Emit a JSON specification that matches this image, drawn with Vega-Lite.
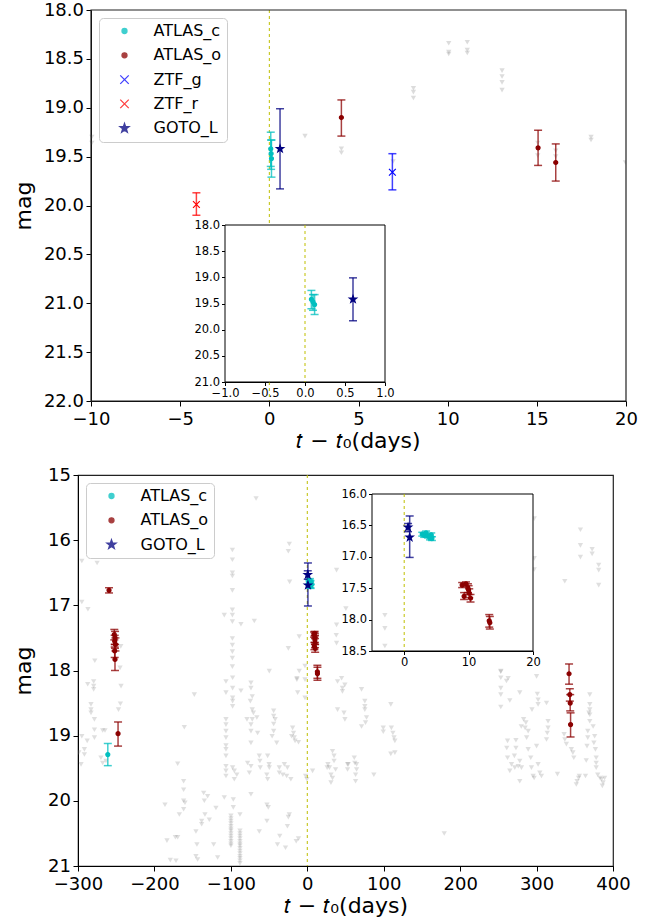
{
  "$schema": "https://vega.github.io/schema/vega-lite/v6.json",
  "background": "white",
  "padding": {"left": 11, "top": 1, "right": 5, "bottom": 5},
  "config": {
    "font": "DejaVu Sans",
    "view": {"stroke": "#222222", "strokeWidth": 1.2},
    "axis": {"grid": false, "labelFont": "DejaVu Sans", "titleFont": "DejaVu Sans", "labelColor": "black", "titleColor": "black", "domainColor": "black", "tickColor": "black", "titleFontWeight": "normal", "labelFlush": false, "labelOverlap": false, "domainWidth": 1, "tickWidth": 1}
  },
  "datasets": {
    "top_det": [
      {"band": "ZTF_r", "t": -4.09, "mag": 19.99, "lo": 19.87, "hi": 20.10},
      {"band": "ATLAS_c", "t": 0.08, "mag": 19.42, "lo": 19.25, "hi": 19.60},
      {"band": "ATLAS_c", "t": 0.10, "mag": 19.47, "lo": 19.33, "hi": 19.63},
      {"band": "ATLAS_c", "t": 0.12, "mag": 19.52, "lo": 19.33, "hi": 19.71},
      {"band": "ATLAS_o", "t": 4.04, "mag": 19.10, "lo": 18.92, "hi": 19.29},
      {"band": "ZTF_g", "t": 6.90, "mag": 19.66, "lo": 19.47, "hi": 19.84},
      {"band": "ATLAS_o", "t": 15.07, "mag": 19.41, "lo": 19.23, "hi": 19.59},
      {"band": "ATLAS_o", "t": 16.06, "mag": 19.56, "lo": 19.37, "hi": 19.75},
      {"band": "GOTO_L", "t": 0.60, "mag": 19.42, "lo": 19.01, "hi": 19.83}
    ],
    "top_lim": [
      {"t": -9.95, "mag": 19.30}, {"t": -9.95, "mag": 19.36}, {"t": -5.85, "mag": 19.30}, {"t": 2.0, "mag": 19.29},
      {"t": 4.04, "mag": 19.42}, {"t": 4.04, "mag": 19.46}, {"t": 6.94, "mag": 19.55},
      {"t": 8.08, "mag": 18.80}, {"t": 8.08, "mag": 18.84}, {"t": 8.08, "mag": 18.90},
      {"t": 10.06, "mag": 18.34}, {"t": 10.06, "mag": 18.43}, {"t": 10.06, "mag": 18.45},
      {"t": 11.1, "mag": 18.33}, {"t": 11.1, "mag": 18.41}, {"t": 11.1, "mag": 18.44},
      {"t": 13.05, "mag": 18.62}, {"t": 13.05, "mag": 18.68}, {"t": 13.05, "mag": 18.74}, {"t": 13.05, "mag": 18.82},
      {"t": 15.05, "mag": 19.36}, {"t": 15.05, "mag": 19.49}, {"t": 16.06, "mag": 19.44}, {"t": 16.06, "mag": 19.50},
      {"t": 18.04, "mag": 19.30}, {"t": 18.04, "mag": 19.33}, {"t": 19.97, "mag": 19.56}
    ],
    "bot_det": [
      {"band": "ATLAS_c", "t": -261, "mag": 19.29, "lo": 19.12, "hi": 19.46},
      {"band": "ATLAS_c", "t": 2.8, "mag": 16.64, "lo": 16.61, "hi": 16.67},
      {"band": "ATLAS_c", "t": 3.1, "mag": 16.66, "lo": 16.63, "hi": 16.69},
      {"band": "ATLAS_c", "t": 3.4, "mag": 16.62, "lo": 16.59, "hi": 16.65},
      {"band": "ATLAS_c", "t": 3.7, "mag": 16.67, "lo": 16.64, "hi": 16.70},
      {"band": "ATLAS_c", "t": 4.0, "mag": 16.70, "lo": 16.67, "hi": 16.73},
      {"band": "ATLAS_c", "t": 4.2, "mag": 16.65, "lo": 16.62, "hi": 16.68},
      {"band": "ATLAS_c", "t": 4.3, "mag": 16.71, "lo": 16.68, "hi": 16.74},
      {"band": "ATLAS_o", "t": -259.4, "mag": 16.77, "lo": 16.73, "hi": 16.81},
      {"band": "ATLAS_o", "t": -252.5, "mag": 17.45, "lo": 17.37, "hi": 17.53},
      {"band": "ATLAS_o", "t": -251.5, "mag": 17.50, "lo": 17.40, "hi": 17.60},
      {"band": "ATLAS_o", "t": -252, "mag": 17.55, "lo": 17.46, "hi": 17.64},
      {"band": "ATLAS_o", "t": -251, "mag": 17.60, "lo": 17.50, "hi": 17.70},
      {"band": "ATLAS_o", "t": -252, "mag": 17.70, "lo": 17.60, "hi": 17.80},
      {"band": "ATLAS_o", "t": -251.6, "mag": 17.83, "lo": 17.66, "hi": 18.00},
      {"band": "ATLAS_o", "t": -247.6, "mag": 18.97, "lo": 18.79, "hi": 19.16},
      {"band": "ATLAS_o", "t": 9.0, "mag": 17.45, "lo": 17.41, "hi": 17.49},
      {"band": "ATLAS_o", "t": 9.3, "mag": 17.63, "lo": 17.57, "hi": 17.68},
      {"band": "ATLAS_o", "t": 9.6, "mag": 17.43, "lo": 17.40, "hi": 17.47},
      {"band": "ATLAS_o", "t": 9.9, "mag": 17.50, "lo": 17.43, "hi": 17.57},
      {"band": "ATLAS_o", "t": 10.1, "mag": 17.58, "lo": 17.51, "hi": 17.65},
      {"band": "ATLAS_o", "t": 10.3, "mag": 17.66, "lo": 17.60, "hi": 17.72},
      {"band": "ATLAS_o", "t": 10.0, "mag": 17.53, "lo": 17.46, "hi": 17.60},
      {"band": "ATLAS_o", "t": 13.2, "mag": 18.02, "lo": 17.92, "hi": 18.12},
      {"band": "ATLAS_o", "t": 13.3, "mag": 18.05, "lo": 17.95, "hi": 18.15},
      {"band": "ATLAS_o", "t": 342.5, "mag": 18.05, "lo": 17.90, "hi": 18.21},
      {"band": "ATLAS_o", "t": 343.5, "mag": 18.37, "lo": 18.28, "hi": 18.47},
      {"band": "ATLAS_o", "t": 344, "mag": 18.50, "lo": 18.37, "hi": 18.62},
      {"band": "ATLAS_o", "t": 344.5, "mag": 18.83, "lo": 18.65, "hi": 19.02},
      {"band": "GOTO_L", "t": 0.6, "mag": 16.53, "lo": 16.47, "hi": 16.60},
      {"band": "GOTO_L", "t": 0.85, "mag": 16.69, "lo": 16.35, "hi": 17.01}
    ],
    "bot_lim": [
      {"t": -67, "mag": 15.36}, {"t": -295, "mag": 16.32}, {"t": -275, "mag": 16.35}, {"t": -295, "mag": 16.95}, {"t": -287, "mag": 17.06}, {"t": -244, "mag": 17.63}, {"t": -245, "mag": 17.96}, {"t": -278, "mag": 17.85},
      {"t": -98, "mag": 16.15}, {"t": -98, "mag": 16.30}, {"t": -98, "mag": 16.50}, {"t": -98, "mag": 16.55}, {"t": -98, "mag": 16.77}, {"t": -98, "mag": 17.07}, {"t": -98, "mag": 17.15}, {"t": -98, "mag": 17.25}, {"t": -98, "mag": 17.51}, {"t": -98, "mag": 17.61}, {"t": -98, "mag": 17.71}, {"t": -98, "mag": 17.81}, {"t": -98, "mag": 17.94},
      {"t": -108.6, "mag": 17.15}, {"t": -86.8, "mag": 17.29}, {"t": -69.3, "mag": 17.24}, {"t": -23.5, "mag": 16.06}, {"t": -24.8, "mag": 16.17}, {"t": -23.1, "mag": 16.64}, {"t": -10.5, "mag": 17.48}, {"t": -24.8, "mag": 17.66}, {"t": -49.7, "mag": 18.01}, {"t": -13.6, "mag": 18.12},
      {"t": 38.3, "mag": 16.46}, {"t": 38.3, "mag": 17.30}, {"t": 37.9, "mag": 17.46}, {"t": 38.3, "mag": 17.58}, {"t": 50.5, "mag": 17.05}, {"t": 44.9, "mag": 18.12},
      {"t": 296.9, "mag": 15.67}, {"t": 296.9, "mag": 16.28}, {"t": 296.9, "mag": 16.45}, {"t": 357.4, "mag": 15.84}, {"t": 357.4, "mag": 16.08}, {"t": 357.4, "mag": 16.26}, {"t": 372.7, "mag": 16.14}, {"t": 372.7, "mag": 16.21}, {"t": 381.3, "mag": 16.38}, {"t": 381.3, "mag": 16.46}, {"t": 381.3, "mag": 16.69}, {"t": 336.9, "mag": 16.63}, {"t": 253.2, "mag": 18.02}, {"t": 262.8, "mag": 18.12},
      {"t": -3, "mag": 17.93}, {"t": -3, "mag": 18.14}, {"t": -3, "mag": 18.42},
      {"t": -279.5, "mag": 18.17}, {"t": -279.5, "mag": 18.24}, {"t": -279.5, "mag": 18.29}, {"t": -287.3, "mag": 18.21}, {"t": -283, "mag": 18.52}, {"t": -283, "mag": 18.60}, {"t": -283, "mag": 18.65}, {"t": -243.7, "mag": 18.24}, {"t": -244.5, "mag": 18.51}, {"t": -247, "mag": 18.60}, {"t": -278.5, "mag": 18.75}, {"t": -278.5, "mag": 18.91}, {"t": -278.5, "mag": 19.03}, {"t": -267.7, "mag": 18.92}, {"t": -264.7, "mag": 18.92}, {"t": -295, "mag": 19.01}, {"t": -288, "mag": 19.08}, {"t": -299, "mag": 19.26}, {"t": -291.6, "mag": 19.21}, {"t": -291.6, "mag": 19.29}, {"t": -296, "mag": 19.44}, {"t": -270, "mag": 19.34}, {"t": -267.7, "mag": 19.42}, {"t": -263.4, "mag": 19.39},
      {"t": -160.9, "mag": 18.87}, {"t": -147.8, "mag": 18.37}, {"t": -169.6, "mag": 19.43}, {"t": -161.8, "mag": 19.70}, {"t": -161.8, "mag": 19.83}, {"t": -161.8, "mag": 20.00}, {"t": -160, "mag": 20.03}, {"t": -186.2, "mag": 20.06}, {"t": -135.6, "mag": 19.88}, {"t": -130.4, "mag": 19.93}, {"t": -134.7, "mag": 20.00}, {"t": -167.4, "mag": 20.21}, {"t": -161.8, "mag": 20.13}, {"t": -138.2, "mag": 20.31}, {"t": -138.2, "mag": 20.36}, {"t": -133.9, "mag": 20.21}, {"t": -128.2, "mag": 20.29}, {"t": -119.5, "mag": 20.11}, {"t": -145.7, "mag": 20.47}, {"t": -183.6, "mag": 20.61}, {"t": -172.6, "mag": 20.56}, {"t": -169.6, "mag": 20.56}, {"t": -144.4, "mag": 20.67}, {"t": -145.7, "mag": 20.85}, {"t": -143.5, "mag": 20.90}, {"t": -179.2, "mag": 20.91}, {"t": -171.8, "mag": 20.92}, {"t": -122.5, "mag": 20.67}, {"t": -117.3, "mag": 20.87},
      {"t": -106.4, "mag": 18.17}, {"t": -106.4, "mag": 18.34}, {"t": -106.4, "mag": 18.75}, {"t": -106.4, "mag": 18.83}, {"t": -106.4, "mag": 18.93}, {"t": -106.4, "mag": 19.03}, {"t": -106.4, "mag": 19.15}, {"t": -106.4, "mag": 19.21}, {"t": -106.4, "mag": 19.31}, {"t": -106.4, "mag": 19.47}, {"t": -106.4, "mag": 19.54}, {"t": -106.4, "mag": 19.62},
      {"t": -97.7, "mag": 18.11}, {"t": -97.7, "mag": 18.27}, {"t": -97.7, "mag": 18.42}, {"t": -97.7, "mag": 18.47}, {"t": -97.7, "mag": 18.55}, {"t": -86.8, "mag": 18.31},
      {"t": -97.7, "mag": 19.49}, {"t": -95.5, "mag": 19.54}, {"t": -92.2, "mag": 19.60}, {"t": -95.5, "mag": 19.67}, {"t": -108.6, "mag": 19.95}, {"t": -96.8, "mag": 19.98}, {"t": -96.8, "mag": 20.10},
      {"t": -99.9, "mag": 20.23}, {"t": -99.9, "mag": 20.27}, {"t": -99.9, "mag": 20.31}, {"t": -99.9, "mag": 20.35}, {"t": -99.9, "mag": 20.39}, {"t": -99.9, "mag": 20.43}, {"t": -99.9, "mag": 20.46}, {"t": -99.9, "mag": 20.50}, {"t": -99.9, "mag": 20.54}, {"t": -99.9, "mag": 20.58}, {"t": -99.9, "mag": 20.62}, {"t": -99.9, "mag": 20.66}, {"t": -99.9, "mag": 20.69},
      {"t": -88.1, "mag": 20.21}, {"t": -88.1, "mag": 20.46}, {"t": -88.1, "mag": 20.50}, {"t": -88.1, "mag": 20.54}, {"t": -88.1, "mag": 20.58}, {"t": -88.1, "mag": 20.62}, {"t": -88.1, "mag": 20.66}, {"t": -88.1, "mag": 20.69}, {"t": -88.1, "mag": 20.73}, {"t": -88.1, "mag": 20.77}, {"t": -88.1, "mag": 20.81}, {"t": -88.1, "mag": 20.85}, {"t": -88.1, "mag": 20.88}, {"t": -88.1, "mag": 20.92}, {"t": -88.1, "mag": 20.96},
      {"t": -73.7, "mag": 18.19}, {"t": -73.7, "mag": 18.27}, {"t": -72, "mag": 18.40}, {"t": -74.5, "mag": 18.47}, {"t": -72, "mag": 18.60}, {"t": -70.5, "mag": 18.65}, {"t": -66, "mag": 18.72}, {"t": -72, "mag": 18.75}, {"t": -78.9, "mag": 18.75}, {"t": -73.7, "mag": 18.83}, {"t": -73.7, "mag": 18.93}, {"t": -65, "mag": 18.96}, {"t": -73.7, "mag": 19.11},
      {"t": -62.8, "mag": 19.31}, {"t": -62, "mag": 19.39}, {"t": -51.9, "mag": 19.31}, {"t": -50, "mag": 19.44}, {"t": -49.7, "mag": 19.49}, {"t": -53, "mag": 19.60}, {"t": -51.9, "mag": 19.67}, {"t": -61.5, "mag": 19.49}, {"t": -73.7, "mag": 19.47}, {"t": -75.8, "mag": 19.57}, {"t": -78.1, "mag": 19.42},
      {"t": -44, "mag": 18.62}, {"t": -44, "mag": 18.70}, {"t": -42, "mag": 18.75}, {"t": -44, "mag": 18.82}, {"t": -44, "mag": 18.93}, {"t": -46, "mag": 19.01}, {"t": -40, "mag": 19.11},
      {"t": -73.7, "mag": 19.90}, {"t": -52.8, "mag": 20.06}, {"t": -51, "mag": 20.10}, {"t": -62.8, "mag": 20.47}, {"t": -52.8, "mag": 20.31},
      {"t": -36.6, "mag": 19.49}, {"t": -32, "mag": 19.60}, {"t": -27, "mag": 19.62}, {"t": -21.5, "mag": 19.67}, {"t": -30, "mag": 19.44}, {"t": -26, "mag": 19.49}, {"t": -36.6, "mag": 19.57},
      {"t": -19.2, "mag": 18.88}, {"t": -18, "mag": 18.96}, {"t": -17, "mag": 19.03}, {"t": -16, "mag": 19.08}, {"t": -11.5, "mag": 19.10}, {"t": -20.5, "mag": 19.01},
      {"t": -13.6, "mag": 18.14}, {"t": -12.6, "mag": 18.34}, {"t": -10.5, "mag": 18.01},
      {"t": -23.5, "mag": 20.21}, {"t": -24.8, "mag": 20.25}, {"t": -26, "mag": 20.39}, {"t": -36, "mag": 20.54}, {"t": -28.5, "mag": 20.72}, {"t": -39, "mag": 20.67}, {"t": -14.5, "mag": 20.62}, {"t": -11.5, "mag": 20.58},
      {"t": -2.2, "mag": 19.62}, {"t": -0.5, "mag": 19.67}, {"t": 6.9, "mag": 19.54},
      {"t": 39.6, "mag": 18.17}, {"t": 49.2, "mag": 18.22}, {"t": 39.6, "mag": 18.60}, {"t": 48, "mag": 18.65}, {"t": 49.2, "mag": 18.75},
      {"t": 27, "mag": 19.44}, {"t": 29, "mag": 19.49}, {"t": 31, "mag": 19.60}, {"t": 33, "mag": 19.65}, {"t": 35, "mag": 19.39}, {"t": 26, "mag": 19.49}, {"t": 31, "mag": 19.72}, {"t": 37, "mag": 19.52}, {"t": 33, "mag": 19.24}, {"t": 35, "mag": 19.31}, {"t": 52.7, "mag": 19.44},
      {"t": 46, "mag": 18.27}, {"t": 46, "mag": 18.32}, {"t": 71, "mag": 18.29}, {"t": 75.3, "mag": 18.47}, {"t": 75.3, "mag": 18.55}, {"t": 75.3, "mag": 18.60}, {"t": 77.5, "mag": 18.72}, {"t": 76.2, "mag": 18.80}, {"t": 71, "mag": 18.86}, {"t": 109.3, "mag": 18.52}, {"t": 99.4, "mag": 18.88}, {"t": 99.4, "mag": 18.94}, {"t": 110, "mag": 18.88}, {"t": 112, "mag": 18.96}, {"t": 113.5, "mag": 19.03}, {"t": 114.6, "mag": 19.08}, {"t": 109.3, "mag": 19.28}, {"t": 114.6, "mag": 19.26}, {"t": 61.5, "mag": 19.34}, {"t": 62.2, "mag": 19.42}, {"t": 64.5, "mag": 19.44}, {"t": 53.6, "mag": 19.44}, {"t": 52.7, "mag": 19.52}, {"t": 63.2, "mag": 19.60}, {"t": 63.2, "mag": 19.70}, {"t": 64.5, "mag": 19.52}, {"t": 87.1, "mag": 19.60}, {"t": 179.2, "mag": 20.50},
      {"t": 253.2, "mag": 18.01}, {"t": 253.2, "mag": 18.11}, {"t": 253.2, "mag": 18.27}, {"t": 253.2, "mag": 18.37}, {"t": 253.2, "mag": 18.56}, {"t": 260.6, "mag": 18.16}, {"t": 265, "mag": 18.46}, {"t": 278, "mag": 18.34},
      {"t": 300, "mag": 18.09}, {"t": 301, "mag": 18.36}, {"t": 302, "mag": 18.45}, {"t": 302, "mag": 18.52}, {"t": 313, "mag": 18.50}, {"t": 294, "mag": 18.60}, {"t": 315, "mag": 18.78}, {"t": 315, "mag": 18.88}, {"t": 314, "mag": 18.96}, {"t": 313, "mag": 19.06},
      {"t": 283, "mag": 18.75}, {"t": 286, "mag": 18.80}, {"t": 285, "mag": 18.88}, {"t": 289, "mag": 18.93}, {"t": 287, "mag": 19.03}, {"t": 280, "mag": 18.86},
      {"t": 262, "mag": 19.08}, {"t": 261, "mag": 19.19}, {"t": 262, "mag": 19.34}, {"t": 273, "mag": 19.07}, {"t": 273, "mag": 19.19}, {"t": 271, "mag": 19.31}, {"t": 278, "mag": 19.39}, {"t": 289, "mag": 19.21}, {"t": 300, "mag": 19.16},
      {"t": 267.2, "mag": 19.44}, {"t": 271.5, "mag": 19.49}, {"t": 265, "mag": 19.54}, {"t": 276, "mag": 19.47}, {"t": 280.2, "mag": 19.49}, {"t": 293.3, "mag": 19.49}, {"t": 295.5, "mag": 19.62}, {"t": 302, "mag": 19.44}, {"t": 304.2, "mag": 19.57}, {"t": 306.4, "mag": 19.62}, {"t": 278, "mag": 19.70}, {"t": 292.4, "mag": 19.34}, {"t": 296.8, "mag": 19.65}, {"t": 327.3, "mag": 19.59},
      {"t": 336, "mag": 18.98}, {"t": 337, "mag": 19.06}, {"t": 339, "mag": 19.13}, {"t": 345.5, "mag": 19.21}, {"t": 347.5, "mag": 19.26}, {"t": 348.7, "mag": 19.34},
      {"t": 369.6, "mag": 18.37}, {"t": 369.6, "mag": 18.52}, {"t": 369.6, "mag": 18.60}, {"t": 369.6, "mag": 18.68}, {"t": 369.6, "mag": 18.78}, {"t": 368.5, "mag": 18.65},
      {"t": 367, "mag": 18.93}, {"t": 367, "mag": 19.03}, {"t": 366, "mag": 19.16}, {"t": 365, "mag": 19.38}, {"t": 364, "mag": 19.62},
      {"t": 374, "mag": 18.86}, {"t": 376, "mag": 19.01}, {"t": 375, "mag": 19.11}, {"t": 377, "mag": 19.21}, {"t": 378, "mag": 19.34}, {"t": 378, "mag": 19.42}, {"t": 380, "mag": 19.60}, {"t": 378, "mag": 19.49},
      {"t": 353, "mag": 19.70}, {"t": 355, "mag": 19.65}, {"t": 352, "mag": 19.75}, {"t": 356, "mag": 19.62},
      {"t": 385, "mag": 19.67}, {"t": 387, "mag": 19.72}, {"t": 383, "mag": 19.65}, {"t": 389, "mag": 19.65}, {"t": 386, "mag": 19.77}
    ]
  },
  "columns": 1,
  "spacing": 14,
  "concat": [
    {
      "width": 548,
      "height": 391,
      "view": {"stroke": null},
      "resolve": {"scale": {"x": "independent", "y": "independent", "color": "independent", "stroke": "independent", "shape": "independent"}},
      "layer": [
        {
          "encoding": {
            "x": {"field": "t", "type": "quantitative", "scale": {"domain": [-10, 20], "range": [13, 548], "nice": false, "zero": false},
              "axis": {"values": [-10, -5, 0, 5, 10, 15, 20], "format": "d", "title": "𝑡 − 𝑡₀(days)", "titleX": 280, "labelFontSize": 18, "titleFontSize": 22, "tickSize": 5, "labelPadding": 4, "titlePadding": 2}},
            "y": {"field": "mag", "type": "quantitative", "scale": {"domain": [18, 22], "reverse": true, "nice": false, "zero": false},
              "axis": {"orient": "left", "offset": -13, "values": [18, 18.5, 19, 19.5, 20, 20.5, 21, 21.5, 22], "format": ".1f", "title": "mag", "labelFontSize": 18, "titleFontSize": 22, "tickSize": 5, "labelPadding": 2.5, "titlePadding": 8}}
          },
          "layer": [
            {"data": {"values": [{"t": 0, "mag": 18, "hi": 22}]}, "mark": {"type": "rule", "color": "#bfbf00", "strokeDash": [3, 3], "strokeWidth": 1}, "encoding": {"y2": {"field": "hi"}}},
            {"data": {"name": "top_lim"}, "mark": {"type": "point", "shape": "triangle-down", "filled": true, "size": 28, "color": "#808080", "opacity": 0.28, "clip": true}},
            {
              "data": {"name": "top_det"},
              "encoding": {
                "color": {"field": "band", "type": "nominal", "scale": {"domain": ["ATLAS_c", "ATLAS_o", "ZTF_g", "ZTF_r", "GOTO_L"], "range": ["#00bfbf", "#8b0000", "#0000ff", "#ff0000", "#000080"]},
                  "legend": {"orient": "none", "legendX": 21, "legendY": 8, "title": null, "labelFontSize": 16, "labelFont": "DejaVu Sans", "labelColor": "black", "symbolSize": 100, "padding": 5, "symbolOffset": 12.5, "labelOffset": 21, "rowPadding": 8.3, "strokeColor": "#cccccc", "fillColor": "white", "cornerRadius": 4, "symbolStrokeWidth": 1.3}}
              },
              "layer": [
                {"mark": {"type": "rule", "strokeWidth": 1.5, "opacity": 0.75},
                  "encoding": {"y": {"field": "lo", "type": "quantitative", "scale": {"domain": [18, 22], "reverse": true, "nice": false, "zero": false},
                    "axis": {"orient": "left", "offset": -13, "values": [18, 18.5, 19, 19.5, 20, 20.5, 21, 21.5, 22], "format": ".1f", "title": "mag", "labelFontSize": 18, "titleFontSize": 22, "tickSize": 5, "labelPadding": 2.5, "titlePadding": 8}}, "y2": {"field": "hi"}}},
                {"mark": {"type": "tick", "orient": "horizontal", "size": 8, "thickness": 1.5, "opacity": 0.75},
                  "encoding": {"y": {"field": "lo", "type": "quantitative", "scale": {"domain": [18, 22], "reverse": true, "nice": false, "zero": false},
                    "axis": {"orient": "left", "offset": -13, "values": [18, 18.5, 19, 19.5, 20, 20.5, 21, 21.5, 22], "format": ".1f", "title": "mag", "labelFontSize": 18, "titleFontSize": 22, "tickSize": 5, "labelPadding": 2.5, "titlePadding": 8}}}},
                {"mark": {"type": "tick", "orient": "horizontal", "size": 8, "thickness": 1.5, "opacity": 0.75},
                  "encoding": {"y": {"field": "hi", "type": "quantitative", "scale": {"domain": [18, 22], "reverse": true, "nice": false, "zero": false},
                    "axis": {"orient": "left", "offset": -13, "values": [18, 18.5, 19, 19.5, 20, 20.5, 21, 21.5, 22], "format": ".1f", "title": "mag", "labelFontSize": 18, "titleFontSize": 22, "tickSize": 5, "labelPadding": 2.5, "titlePadding": 8}}}},
                {"mark": {"type": "point", "filled": true, "size": 64, "strokeWidth": 1.2, "opacity": 1},
                  "encoding": {
                    "stroke": {"field": "band", "type": "nominal", "scale": {"domain": ["ATLAS_c", "ATLAS_o", "ZTF_g", "ZTF_r", "GOTO_L"], "range": ["#00bfbf", "#8b0000", "#0000ff", "#ff0000", "#000080"]}, "legend": null},
                    "shape": {"field": "band", "type": "nominal", "scale": {"domain": ["ATLAS_c", "ATLAS_o", "ZTF_g", "ZTF_r", "GOTO_L"], "range": ["M0.5,0A0.5,0.5,0,1,1,-0.5,0A0.5,0.5,0,1,1,0.5,0Z", "M0.5,0A0.5,0.5,0,1,1,-0.5,0A0.5,0.5,0,1,1,0.5,0Z", "M-0.85,-0.85L0.85,0.85M-0.85,0.85L0.85,-0.85", "M-0.85,-0.85L0.85,0.85M-0.85,0.85L0.85,-0.85", "M0,-0.95L0.223,-0.308L0.903,-0.294L0.361,0.118L0.559,0.769L0,0.38L-0.559,0.769L-0.361,0.118L-0.903,-0.294L-0.223,-0.308Z"]}, "legend": null}
                  }}
              ]
            },
            {"data": {"values": [{"t": -10, "t2": 20, "mag": 18, "hi": 22}]}, "mark": {"type": "rect", "fill": "white", "fillOpacity": 0, "stroke": "#222222", "strokeWidth": 1.2}, "encoding": {"x2": {"field": "t2"}, "y2": {"field": "hi"}}}
          ]
        },
        {
          "encoding": {
            "x": {"field": "t", "type": "quantitative", "scale": {"domain": [-1, 1], "range": [147, 307], "nice": false, "zero": false},
              "axis": {"orient": "bottom", "offset": -19, "values": [-1, -0.5, 0, 0.5, 1], "format": ".1f", "title": null, "labelFontSize": 11.5, "tickSize": 3.5, "labelPadding": 2}},
            "y": {"field": "mag", "type": "quantitative", "scale": {"domain": [18, 21], "range": [215, 372], "nice": false, "zero": false},
              "axis": {"orient": "left", "offset": -147, "values": [18, 18.5, 19, 19.5, 20, 20.5, 21], "format": ".1f", "title": null, "labelFontSize": 11.5, "tickSize": 3.5, "labelPadding": 2}}
          },
          "layer": [
            {"data": {"values": [{"t": -1, "t2": 1, "mag": 18, "hi": 21}]}, "mark": {"type": "rect", "fill": "white", "stroke": "black", "strokeWidth": 1}, "encoding": {"x2": {"field": "t2"}, "y2": {"field": "hi"}}},
            {"data": {"values": [{"t": 0, "mag": 18, "hi": 21}]}, "mark": {"type": "rule", "color": "#bfbf00", "strokeDash": [3, 3], "strokeWidth": 1}, "encoding": {"y2": {"field": "hi"}}},
            {
              "data": {"name": "top_det"},
              "transform": [{"filter": "datum.t >= -1 && datum.t <= 1"}],
              "encoding": {"color": {"field": "band", "type": "nominal", "scale": {"domain": ["ATLAS_c", "ATLAS_o", "ZTF_g", "ZTF_r", "GOTO_L"], "range": ["#00bfbf", "#8b0000", "#0000ff", "#ff0000", "#000080"]}, "legend": null}},
              "layer": [
                {"mark": {"type": "rule", "strokeWidth": 1.5, "opacity": 0.75},
                  "encoding": {"y": {"field": "lo", "type": "quantitative", "scale": {"domain": [18, 21], "range": [215, 372], "nice": false, "zero": false},
                    "axis": {"orient": "left", "offset": -147, "values": [18, 18.5, 19, 19.5, 20, 20.5, 21], "format": ".1f", "title": null, "labelFontSize": 11.5, "tickSize": 3.5, "labelPadding": 2}}, "y2": {"field": "hi"}}},
                {"mark": {"type": "tick", "orient": "horizontal", "size": 8, "thickness": 1.5, "opacity": 0.75},
                  "encoding": {"y": {"field": "lo", "type": "quantitative", "scale": {"domain": [18, 21], "range": [215, 372], "nice": false, "zero": false},
                    "axis": {"orient": "left", "offset": -147, "values": [18, 18.5, 19, 19.5, 20, 20.5, 21], "format": ".1f", "title": null, "labelFontSize": 11.5, "tickSize": 3.5, "labelPadding": 2}}}},
                {"mark": {"type": "tick", "orient": "horizontal", "size": 8, "thickness": 1.5, "opacity": 0.75},
                  "encoding": {"y": {"field": "hi", "type": "quantitative", "scale": {"domain": [18, 21], "range": [215, 372], "nice": false, "zero": false},
                    "axis": {"orient": "left", "offset": -147, "values": [18, 18.5, 19, 19.5, 20, 20.5, 21], "format": ".1f", "title": null, "labelFontSize": 11.5, "tickSize": 3.5, "labelPadding": 2}}}},
                {"mark": {"type": "point", "filled": true, "size": 64, "strokeWidth": 1.2, "opacity": 1},
                  "encoding": {
                    "stroke": {"field": "band", "type": "nominal", "scale": {"domain": ["ATLAS_c", "ATLAS_o", "ZTF_g", "ZTF_r", "GOTO_L"], "range": ["#00bfbf", "#8b0000", "#0000ff", "#ff0000", "#000080"]}, "legend": null},
                    "shape": {"field": "band", "type": "nominal", "scale": {"domain": ["ATLAS_c", "ATLAS_o", "ZTF_g", "ZTF_r", "GOTO_L"], "range": ["M0.5,0A0.5,0.5,0,1,1,-0.5,0A0.5,0.5,0,1,1,0.5,0Z", "M0.5,0A0.5,0.5,0,1,1,-0.5,0A0.5,0.5,0,1,1,0.5,0Z", "M-0.85,-0.85L0.85,0.85M-0.85,0.85L0.85,-0.85", "M-0.85,-0.85L0.85,0.85M-0.85,0.85L0.85,-0.85", "M0,-0.95L0.223,-0.308L0.903,-0.294L0.361,0.118L0.559,0.769L0,0.38L-0.559,0.769L-0.361,0.118L-0.903,-0.294L-0.223,-0.308Z"]}, "legend": null}
                  }}
              ]
            }
          ]
        }
      ]
    },
    {
      "width": 535,
      "height": 391,
      "resolve": {"scale": {"x": "independent", "y": "independent", "color": "independent", "stroke": "independent", "shape": "independent"}},
      "layer": [
        {
          "encoding": {
            "x": {"field": "t", "type": "quantitative", "scale": {"domain": [-300, 400], "nice": false, "zero": false},
              "axis": {"values": [-300, -200, -100, 0, 100, 200, 300, 400], "format": "d", "title": "𝑡 − 𝑡₀(days)", "labelFontSize": 18, "titleFontSize": 22, "tickSize": 5, "labelPadding": 4, "titlePadding": 2}},
            "y": {"field": "mag", "type": "quantitative", "scale": {"domain": [15, 21], "reverse": true, "nice": false, "zero": false},
              "axis": {"values": [15, 16, 17, 18, 19, 20, 21], "format": "d", "title": "mag", "labelFontSize": 18, "titleFontSize": 22, "tickSize": 5, "labelPadding": 2.5, "titlePadding": 12}}
          },
          "layer": [
            {"data": {"values": [{"t": 0, "mag": 15, "hi": 21}]}, "mark": {"type": "rule", "color": "#bfbf00", "strokeDash": [3, 3], "strokeWidth": 1}, "encoding": {"y2": {"field": "hi"}}},
            {"data": {"name": "bot_lim"}, "mark": {"type": "point", "shape": "triangle-down", "filled": true, "size": 28, "color": "#808080", "opacity": 0.25, "clip": true}},
            {
              "data": {"name": "bot_det"},
              "encoding": {
                "color": {"field": "band", "type": "nominal", "scale": {"domain": ["ATLAS_c", "ATLAS_o", "GOTO_L"], "range": ["#00bfbf", "#8b0000", "#000080"]},
                  "legend": {"orient": "top-left", "offset": 8, "title": null, "labelFontSize": 16, "labelFont": "DejaVu Sans", "labelColor": "black", "symbolSize": 100, "padding": 5, "symbolOffset": 12.5, "labelOffset": 21, "rowPadding": 8.3, "strokeColor": "#cccccc", "fillColor": "white", "cornerRadius": 4, "symbolStrokeWidth": 1.3}}
              },
              "layer": [
                {"mark": {"type": "rule", "strokeWidth": 1.5, "opacity": 0.75},
                  "encoding": {"y": {"field": "lo", "type": "quantitative", "scale": {"domain": [15, 21], "reverse": true, "nice": false, "zero": false},
                    "axis": {"values": [15, 16, 17, 18, 19, 20, 21], "format": "d", "title": "mag", "labelFontSize": 18, "titleFontSize": 22, "tickSize": 5, "labelPadding": 2.5, "titlePadding": 12}}, "y2": {"field": "hi"}}},
                {"mark": {"type": "tick", "orient": "horizontal", "size": 8, "thickness": 1.5, "opacity": 0.75},
                  "encoding": {"y": {"field": "lo", "type": "quantitative", "scale": {"domain": [15, 21], "reverse": true, "nice": false, "zero": false},
                    "axis": {"values": [15, 16, 17, 18, 19, 20, 21], "format": "d", "title": "mag", "labelFontSize": 18, "titleFontSize": 22, "tickSize": 5, "labelPadding": 2.5, "titlePadding": 12}}}},
                {"mark": {"type": "tick", "orient": "horizontal", "size": 8, "thickness": 1.5, "opacity": 0.75},
                  "encoding": {"y": {"field": "hi", "type": "quantitative", "scale": {"domain": [15, 21], "reverse": true, "nice": false, "zero": false},
                    "axis": {"values": [15, 16, 17, 18, 19, 20, 21], "format": "d", "title": "mag", "labelFontSize": 18, "titleFontSize": 22, "tickSize": 5, "labelPadding": 2.5, "titlePadding": 12}}}},
                {"mark": {"type": "point", "filled": true, "size": 64, "strokeWidth": 1.2, "opacity": 1},
                  "encoding": {
                    "stroke": {"field": "band", "type": "nominal", "scale": {"domain": ["ATLAS_c", "ATLAS_o", "GOTO_L"], "range": ["#00bfbf", "#8b0000", "#000080"]}, "legend": null},
                    "shape": {"field": "band", "type": "nominal", "scale": {"domain": ["ATLAS_c", "ATLAS_o", "GOTO_L"], "range": ["M0.5,0A0.5,0.5,0,1,1,-0.5,0A0.5,0.5,0,1,1,0.5,0Z", "M0.5,0A0.5,0.5,0,1,1,-0.5,0A0.5,0.5,0,1,1,0.5,0Z", "M0,-0.95L0.223,-0.308L0.903,-0.294L0.361,0.118L0.559,0.769L0,0.38L-0.559,0.769L-0.361,0.118L-0.903,-0.294L-0.223,-0.308Z"]}, "legend": null}
                  }}
              ]
            }
          ]
        },
        {
          "encoding": {
            "x": {"field": "t", "type": "quantitative", "scale": {"domain": [-5, 20], "range": [294, 455], "nice": false, "zero": false},
              "axis": {"orient": "bottom", "offset": -215, "values": [0, 10, 20], "format": "d", "title": null, "labelFontSize": 11.5, "tickSize": 3.5, "labelPadding": 2}},
            "y": {"field": "mag", "type": "quantitative", "scale": {"domain": [16, 18.5], "range": [19, 176], "nice": false, "zero": false},
              "axis": {"orient": "left", "offset": -294, "values": [16, 16.5, 17, 17.5, 18, 18.5], "format": ".1f", "title": null, "labelFontSize": 11.5, "tickSize": 3.5, "labelPadding": 2}}
          },
          "layer": [
            {"data": {"values": [{"t": -5, "t2": 20, "mag": 16, "hi": 18.5}]}, "mark": {"type": "rect", "fill": "white", "stroke": "black", "strokeWidth": 1}, "encoding": {"x2": {"field": "t2"}, "y2": {"field": "hi"}}},
            {"data": {"values": [{"t": 0, "mag": 16, "hi": 18.5}]}, "mark": {"type": "rule", "color": "#bfbf00", "strokeDash": [3, 3], "strokeWidth": 1}, "encoding": {"y2": {"field": "hi"}}},
            {"data": {"name": "bot_lim"}, "transform": [{"filter": "datum.t >= -5 && datum.t <= 20 && datum.mag >= 16 && datum.mag <= 18.5"}], "mark": {"type": "point", "shape": "triangle-down", "filled": true, "size": 28, "color": "#808080", "opacity": 0.25}},
            {
              "data": {"name": "bot_det"},
              "transform": [{"filter": "datum.t >= -5 && datum.t <= 20"}],
              "encoding": {"color": {"field": "band", "type": "nominal", "scale": {"domain": ["ATLAS_c", "ATLAS_o", "GOTO_L"], "range": ["#00bfbf", "#8b0000", "#000080"]}, "legend": null}},
              "layer": [
                {"mark": {"type": "rule", "strokeWidth": 1.5, "opacity": 0.75},
                  "encoding": {"y": {"field": "lo", "type": "quantitative", "scale": {"domain": [16, 18.5], "range": [19, 176], "nice": false, "zero": false},
                    "axis": {"orient": "left", "offset": -294, "values": [16, 16.5, 17, 17.5, 18, 18.5], "format": ".1f", "title": null, "labelFontSize": 11.5, "tickSize": 3.5, "labelPadding": 2}}, "y2": {"field": "hi"}}},
                {"mark": {"type": "tick", "orient": "horizontal", "size": 8, "thickness": 1.5, "opacity": 0.75},
                  "encoding": {"y": {"field": "lo", "type": "quantitative", "scale": {"domain": [16, 18.5], "range": [19, 176], "nice": false, "zero": false},
                    "axis": {"orient": "left", "offset": -294, "values": [16, 16.5, 17, 17.5, 18, 18.5], "format": ".1f", "title": null, "labelFontSize": 11.5, "tickSize": 3.5, "labelPadding": 2}}}},
                {"mark": {"type": "tick", "orient": "horizontal", "size": 8, "thickness": 1.5, "opacity": 0.75},
                  "encoding": {"y": {"field": "hi", "type": "quantitative", "scale": {"domain": [16, 18.5], "range": [19, 176], "nice": false, "zero": false},
                    "axis": {"orient": "left", "offset": -294, "values": [16, 16.5, 17, 17.5, 18, 18.5], "format": ".1f", "title": null, "labelFontSize": 11.5, "tickSize": 3.5, "labelPadding": 2}}}},
                {"mark": {"type": "point", "filled": true, "size": 64, "strokeWidth": 1.2, "opacity": 1},
                  "encoding": {
                    "stroke": {"field": "band", "type": "nominal", "scale": {"domain": ["ATLAS_c", "ATLAS_o", "GOTO_L"], "range": ["#00bfbf", "#8b0000", "#000080"]}, "legend": null},
                    "shape": {"field": "band", "type": "nominal", "scale": {"domain": ["ATLAS_c", "ATLAS_o", "GOTO_L"], "range": ["M0.5,0A0.5,0.5,0,1,1,-0.5,0A0.5,0.5,0,1,1,0.5,0Z", "M0.5,0A0.5,0.5,0,1,1,-0.5,0A0.5,0.5,0,1,1,0.5,0Z", "M0,-0.95L0.223,-0.308L0.903,-0.294L0.361,0.118L0.559,0.769L0,0.38L-0.559,0.769L-0.361,0.118L-0.903,-0.294L-0.223,-0.308Z"]}, "legend": null}
                  }}
              ]
            }
          ]
        }
      ]
    }
  ]
}
